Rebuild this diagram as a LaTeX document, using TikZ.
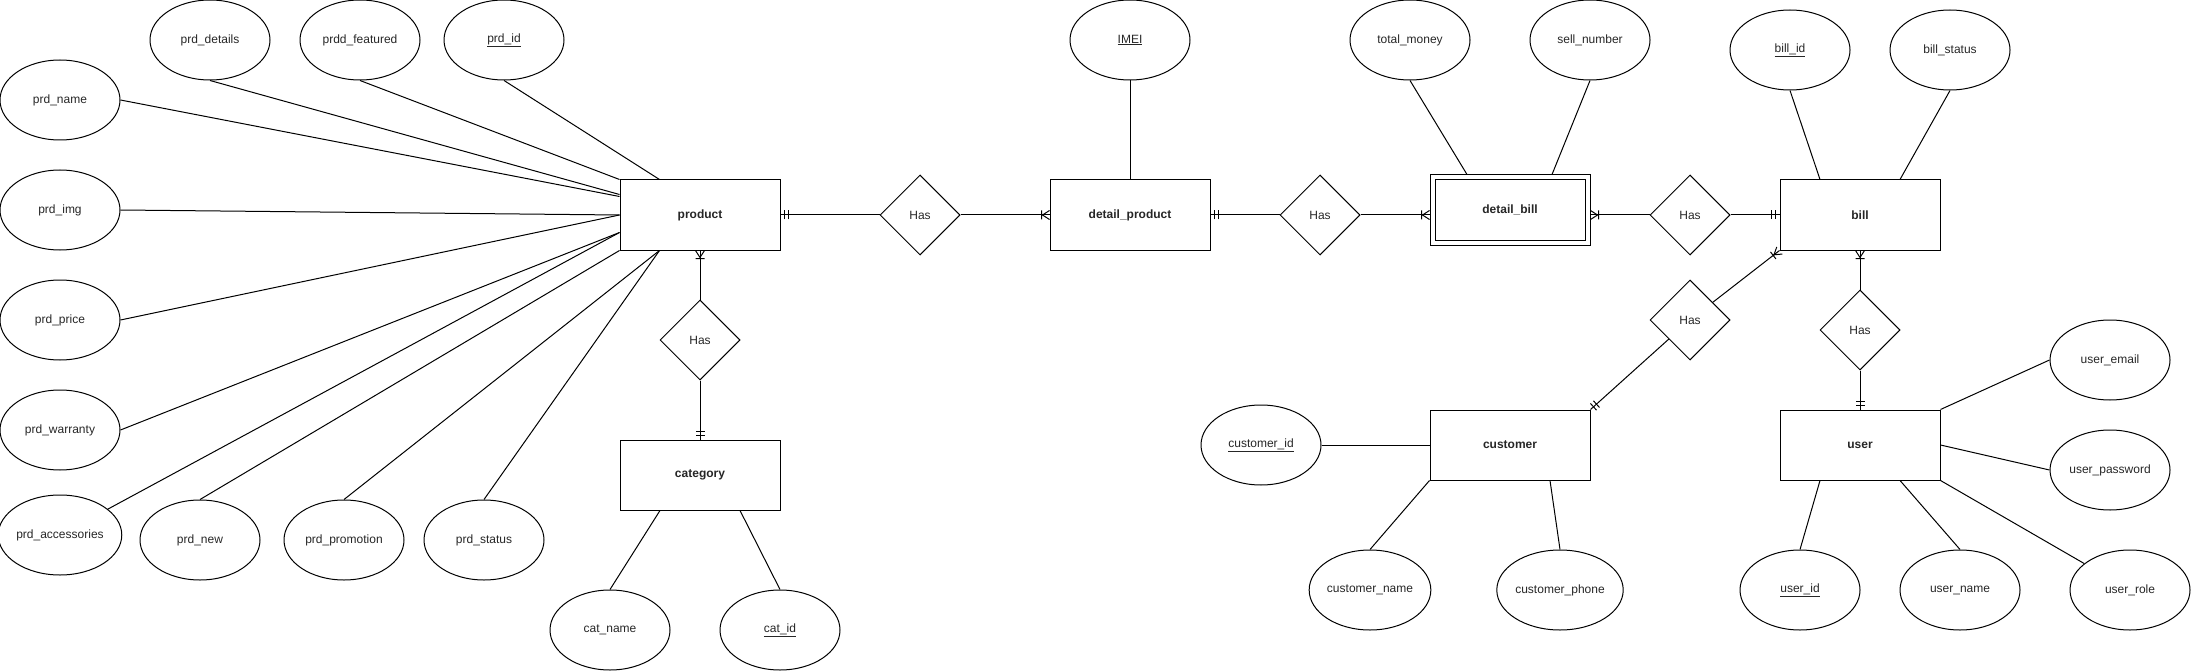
\documentclass[tikz,border=0pt]{standalone}
\usepackage{fontspec}
\setmainfont{Liberation Sans}
\usepackage{tikz}
\usetikzlibrary{arrows.meta, shapes.geometric, calc}

% ER ends: mandatory one (||) and one-or-many (crow's foot)
\pgfdeclarearrow{
  name = ERmandOne,
  parameters = {\the\pgflinewidth},
  setup code = {
    \pgfarrowssettipend{0pt}
    \pgfarrowssetlineend{0pt}
    \pgfarrowssetbackend{-9pt}
    \pgfarrowshullpoint{0pt}{5pt}
    \pgfarrowshullpoint{-9pt}{5pt}
    \pgfarrowshullpoint{-9pt}{-5pt}
    \pgfarrowshullpoint{0pt}{-5pt}
  },
  drawing code = {
    \pgfpathmoveto{\pgfqpoint{-4pt}{4.5pt}}
    \pgfpathlineto{\pgfqpoint{-4pt}{-4.5pt}}
    \pgfpathmoveto{\pgfqpoint{-8pt}{4.5pt}}
    \pgfpathlineto{\pgfqpoint{-8pt}{-4.5pt}}
    \pgfusepathqstroke
  }
}
\pgfdeclarearrow{
  name = ERmany,
  parameters = {\the\pgflinewidth},
  setup code = {
    \pgfarrowssettipend{0pt}
    \pgfarrowssetlineend{0pt}
    \pgfarrowssetbackend{-9pt}
    \pgfarrowshullpoint{0pt}{5pt}
    \pgfarrowshullpoint{-9pt}{5pt}
    \pgfarrowshullpoint{-9pt}{-5pt}
    \pgfarrowshullpoint{0pt}{-5pt}
  },
  drawing code = {
    \pgfpathmoveto{\pgfqpoint{0pt}{4.5pt}}
    \pgfpathlineto{\pgfqpoint{-7pt}{0pt}}
    \pgfpathlineto{\pgfqpoint{0pt}{-4.5pt}}
    \pgfpathmoveto{\pgfqpoint{-8pt}{4.5pt}}
    \pgfpathlineto{\pgfqpoint{-8pt}{-4.5pt}}
    \pgfusepathqstroke
  }
}

\begin{document}
\begin{tikzpicture}[
    x=1pt, y=-1pt,
    line width=1pt,
    text=black!85,
    entity/.style={draw, minimum width=160pt, minimum height=70pt, inner sep=0pt, font=\fontsize{12}{14}\selectfont\bfseries},
    weak/.style={entity, double, double distance=4pt, minimum width=155pt, minimum height=65pt, outer sep=3pt},
    attr/.style={draw, ellipse, minimum width=120pt, minimum height=80pt, inner sep=0pt, font=\fontsize{12}{14}\selectfont},
    rel/.style={draw, diamond, aspect=1, minimum width=80pt, minimum height=80pt, inner sep=0pt, font=\fontsize{12}{14}\selectfont}
]
\useasboundingbox (0,0) rectangle (2192,671);

% Entities
\node[entity] (product) at (700,215) {product};
\node[entity] (category) at (700,475) {category};
\node[entity] (dproduct) at (1130,215) {detail\_product};
\node[weak] (dbill) at (1510,210) {detail\_bill};
\node[entity] (bill) at (1860,215) {bill};
\node[entity] (customer) at (1510,445) {customer};
\node[entity] (user) at (1860,445) {user};

% Relationships
\node[rel] (has1) at (920,215) {Has};
\node[rel] (hascat) at (700,340) {Has};
\node[rel] (has2) at (1320,215) {Has};
\node[rel] (has3) at (1690,215) {Has};
\node[rel] (has4) at (1690,320) {Has};
\node[rel] (has5) at (1860,330) {Has};

% Product attributes
\node[attr] (pdetails) at (210,40) {prd\_details};
\node[attr] (pfeatured) at (360,40) {prdd\_featured};
\node[attr] (pid) at (504,40) {\underline{prd\_id}};
\node[attr] (pname) at (60,100) {prd\_name};
\node[attr] (pimg) at (60,210) {prd\_img};
\node[attr] (pprice) at (60,320) {prd\_price};
\node[attr] (pwarranty) at (60,430) {prd\_warranty};
\node[attr] (paccess) at (60,535) {prd\_accessories};
\node[attr] (pnew) at (200,540) {prd\_new};
\node[attr] (ppromo) at (344,540) {prd\_promotion};
\node[attr] (pstatus) at (484,540) {prd\_status};

% Category attributes
\node[attr] (catname) at (610,630) {cat\_name};
\node[attr] (catid) at (780,630) {\underline{cat\_id}};

% Detail attributes
\node[attr] (imei) at (1130,40) {\underline{IMEI}};
\node[attr] (tmoney) at (1410,40) {total\_money};
\node[attr] (snumber) at (1590,40) {sell\_number};

% Bill attributes
\node[attr] (billid) at (1790,50) {\underline{bill\_id}};
\node[attr] (bstatus) at (1950,50) {bill\_status};

% Customer attributes
\node[attr] (cid) at (1261,445) {\underline{customer\_id}};
\node[attr] (cname) at (1370,590) {customer\_name};
\node[attr] (cphone) at (1560,590) {customer\_phone};

% User attributes
\node[attr] (uemail) at (2110,360) {user\_email};
\node[attr] (upass) at (2110,470) {user\_password};
\node[attr] (uid) at (1800,590) {\underline{user\_id}};
\node[attr] (uname) at (1960,590) {user\_name};
\node[attr] (urole) at (2130,590) {user\_role};

% Attribute lines
\draw (pdetails.south) -- ([yshift=-15pt]product.north west);
\draw (pfeatured.south) -- (product.north west);
\draw (pid.south) -- ([xshift=40pt]product.north west);
\draw (pname.east) -- ([yshift=-17pt]product.north west);
\draw (pimg.east) -- (product.west);
\draw (pprice.east) -- (product.west);
\draw (pwarranty.east) -- ([yshift=-53pt]product.north west);
\draw (paccess) -- ([yshift=-53pt]product.north west);
\draw (pnew.north) -- (product.south west);
\draw (ppromo.north) -- ([xshift=40pt]product.south west);
\draw (pstatus.north) -- ([xshift=40pt]product.south west);
\draw (catname.north) -- ([xshift=-40pt]category.south);
\draw (catid.north) -- ([xshift=40pt]category.south);
\draw (imei.south) -- (dproduct.north);
\draw (tmoney.south) -- ([xshift=-43pt]dbill.north);
\draw (snumber.south) -- ([xshift=42pt]dbill.north);
\draw (billid.south) -- ([xshift=-40pt]bill.north);
\draw (bstatus.south) -- ([xshift=40pt]bill.north);
\draw (cid.east) -- (customer.west);
\draw (cname.north) -- (customer.south west);
\draw (cphone.north) -- ([xshift=40pt]customer.south);
\draw (uemail.west) -- (user.north east);
\draw (upass.west) -- (user.east);
\draw (urole) -- (user.south east);
\draw (uname.north) -- ([xshift=40pt]user.south);
\draw (uid.north) -- ([xshift=-40pt]user.south);

% Relationship lines
\draw[{ERmandOne}-] (product) -- (has1);
\draw[-{ERmany}] (has1) -- (dproduct);
\draw[{ERmandOne}-] (dproduct) -- (has2);
\draw[-{ERmany}] (has2) -- (has2 -| dbill.west);
\draw[{ERmany}-] (has3 -| dbill.east) -- (has3);
\draw[-{ERmandOne}] (has3) -- (bill);
\draw[{ERmany}-] (product) -- (hascat);
\draw[-{ERmandOne}] (hascat) -- (category);
\draw[{ERmandOne}-] (customer.north east) -- (has4);
\draw[-{ERmany}] (has4) -- (bill.south west);
\draw[{ERmany}-] (bill) -- (has5);
\draw[-{ERmandOne}] (has5) -- (user);

\end{tikzpicture}
\end{document}
